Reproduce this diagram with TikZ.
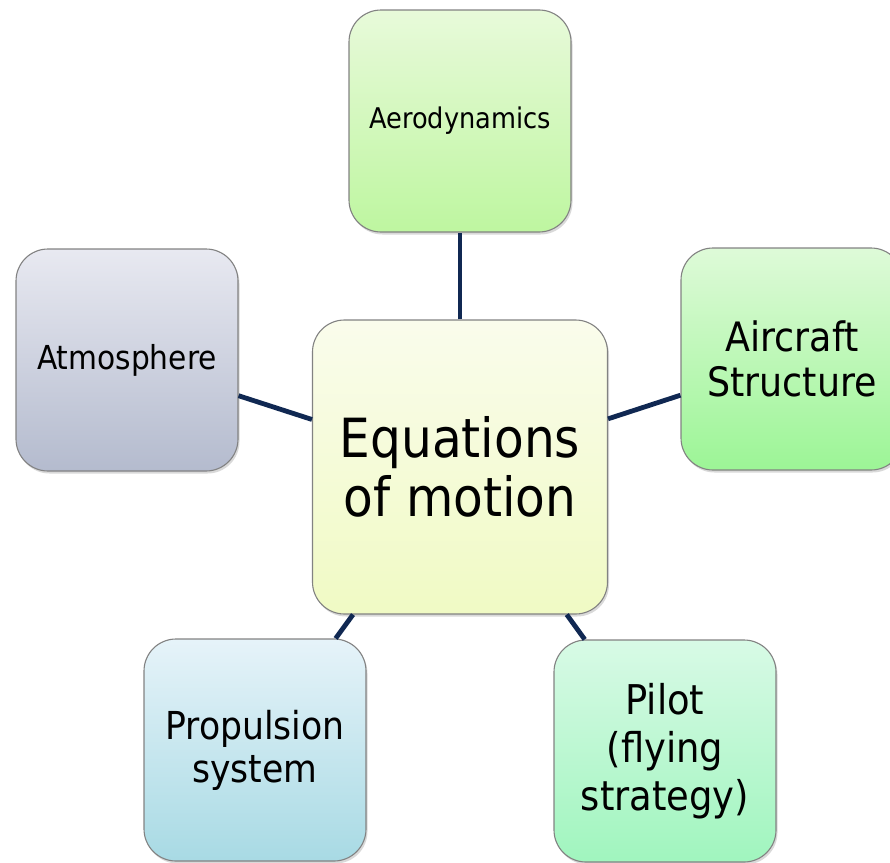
\documentclass[tikz,border=0pt]{standalone}
\usepackage{fontspec}
\setmainfont{DejaVu Sans Condensed}
\usetikzlibrary{shadows,positioning}
\definecolor{linknavy}{RGB}{16,40,82}
\definecolor{boxedge}{RGB}{130,130,130}

\begin{document}
\begin{tikzpicture}[x=1pt,y=-1pt]
	\tikzset{topic/.style={draw=boxedge, line width=1.1pt, rounded corners=32pt,
			minimum width=222pt, minimum height=222pt, align=center, inner sep=2pt,
			drop shadow={opacity=0.3, shadow xshift=1.5pt, shadow yshift=-2.5pt}},
		link/.style={draw=linknavy, line width=4.8pt}}
	\useasboundingbox (0,0) rectangle (890,862);
	\node[topic, minimum width=295pt, minimum height=294pt,
		top color={rgb,255:red,250;green,252;blue,236}, bottom color={rgb,255:red,240;green,250;blue,196},
		font=\fontsize{54}{59}\selectfont] (eom) at (460,467) {Equations\\of motion};
	\node[topic, top color={rgb,255:red,232;green,250;blue,218}, bottom color={rgb,255:red,190;green,246;blue,160},
		font=\fontsize{28.5}{32}\selectfont] (aero) at (460,121) {Aerodynamics};
	\node[topic, top color={rgb,255:red,232;green,233;blue,241}, bottom color={rgb,255:red,180;green,187;blue,206},
		font=\fontsize{33}{36}\selectfont] (atmo) at (127,360) {Atmosphere};
	\node[topic, top color={rgb,255:red,222;green,250;blue,216}, bottom color={rgb,255:red,156;green,245;blue,150},
		font=\fontsize{40.5}{45}\selectfont] (struct) at (792,359) {Aircraft\\Structure};
	\node[topic, top color={rgb,255:red,230;green,243;blue,249}, bottom color={rgb,255:red,168;green,218;blue,228},
		font=\fontsize{38.5}{43}\selectfont] (prop) at (255,750) {Propulsion\\system};
	\node[topic, top color={rgb,255:red,216;green,250;blue,230}, bottom color={rgb,255:red,160;green,245;blue,190},
		font=\fontsize{41}{48}\selectfont] (pilot) at (665,751) {Pilot\\(flying\\strategy)};
	% connectors between the centre and the outer topics
	\foreach \t in {aero,atmo,struct,prop,pilot}
		\draw[link] (eom) -- (\t);
\end{tikzpicture}
\end{document}
